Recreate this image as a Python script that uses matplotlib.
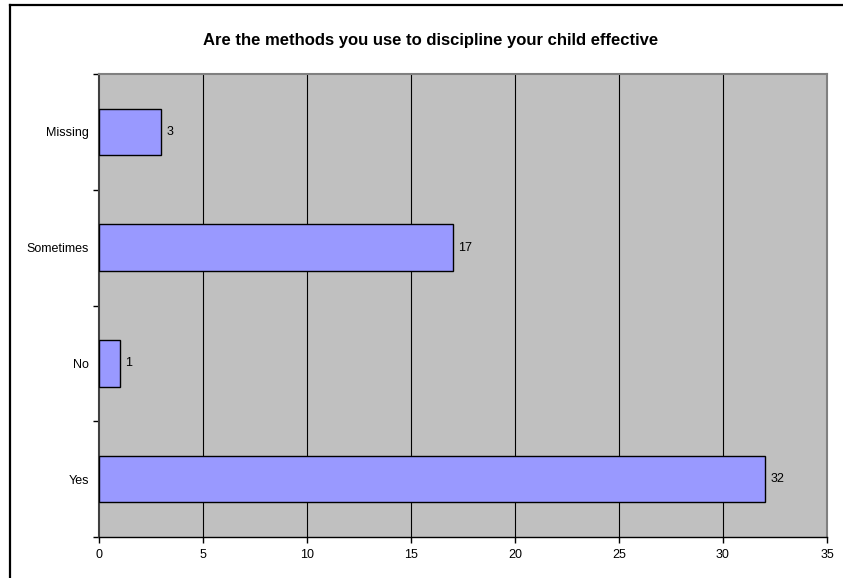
import matplotlib
matplotlib.use("Agg")
import matplotlib.pyplot as plt
from matplotlib.lines import Line2D
import numpy as np

plt.rcParams['font.family'] = ['Liberation Sans', 'DejaVu Sans']

categories = ["Yes", "No", "Sometimes", "Missing"]
counts = [32, 1, 17, 3]
x_ticks = [0, 5, 10, 15, 20, 25, 30, 35]
title = "Are the methods you use to discipline your child effective"

W, H = 843, 578
fig = plt.figure(figsize=(W / 100, H / 100), dpi=100)
fig.patch.set_facecolor("white")

# plot area in pixel coordinates
left, right, top, bottom = 99, 827, 74, 537
ax = fig.add_axes([left / W, (H - bottom) / H, (right - left) / W, (bottom - top) / H])
ax.set_facecolor("#C0C0C0")

y = np.arange(len(categories))
ax.barh(y, counts, height=0.4, color="#9999FF", edgecolor="black", linewidth=1, zorder=3)
for yi, v in zip(y, counts):
    ax.annotate(str(v), (v, yi), xytext=(4, 0), textcoords="offset points",
                va="center", ha="left", fontsize=9, zorder=4)

ax.set_xlim(0, 35)
ax.set_ylim(-0.5, len(categories) - 0.5)
ax.set_xticks(x_ticks)
ax.set_xticklabels([str(t) for t in x_ticks], fontsize=9)
ax.set_yticks(y)
ax.set_yticklabels(categories, fontsize=9)
ax.set_yticks(np.arange(-0.5, len(categories)), minor=True)
ax.tick_params(axis="y", which="major", length=0, pad=7)
ax.tick_params(axis="y", which="minor", length=4, width=1, color="black", direction="out")
ax.tick_params(axis="x", which="major", length=4, width=1, color="black", direction="out", pad=5)

for xv in x_ticks[1:-1]:
    ax.axvline(xv, color="black", linewidth=0.8, zorder=1)

ax.spines["left"].set_color("#404040")
ax.spines["left"].set_linewidth(1.5)
ax.spines["bottom"].set_color("black")
ax.spines["bottom"].set_linewidth(1)
ax.spines["top"].set_color("#808080")
ax.spines["top"].set_linewidth(1.5)
ax.spines["right"].set_color("#808080")
ax.spines["right"].set_linewidth(1.5)

fig.text(431 / W, 1 - 40 / H, title, ha="center", va="center",
         fontsize=12, fontweight="bold")

# outer chart frame (left and top edges)
fig.add_artist(Line2D([10 / W, 10 / W], [0, 1 - 5 / H], color="black", linewidth=1.6,
                      transform=fig.transFigure))
fig.add_artist(Line2D([10 / W, 1], [1 - 5 / H, 1 - 5 / H], color="black", linewidth=1.6,
                      transform=fig.transFigure))

fig.savefig("out.png", dpi=100)
